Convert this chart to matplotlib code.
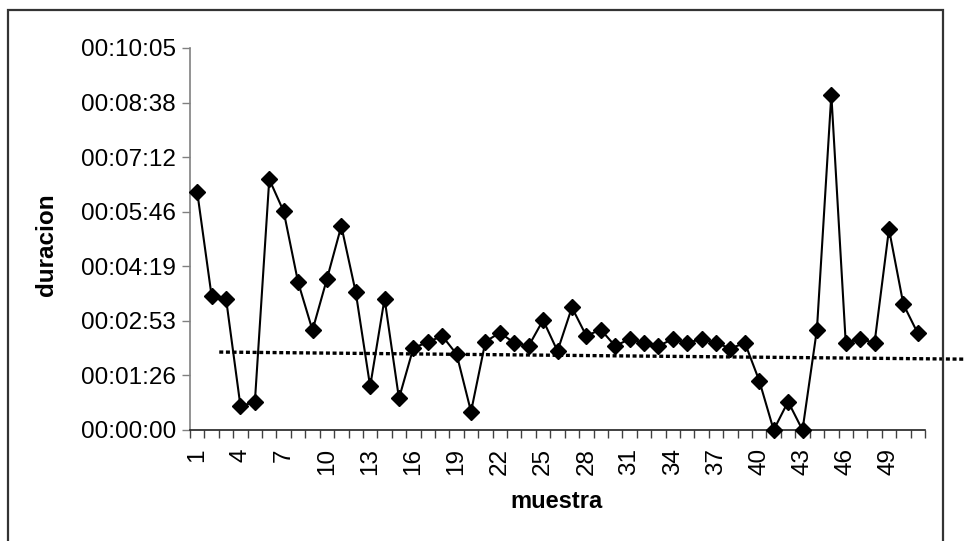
import matplotlib.pyplot as plt
import numpy as np
from matplotlib.patches import Rectangle
from matplotlib.ticker import FixedLocator, FuncFormatter

plt.rcParams['font.family'] = ['Liberation Sans', 'DejaVu Sans']

# duracion de cada muestra (hh:mm:ss)
muestra = list(range(1, 52))
duracion = [
    "00:06:17", "00:03:32", "00:03:28", "00:00:38", "00:00:44",
    "00:06:37", "00:05:46", "00:03:54", "00:02:38", "00:03:59",
    "00:05:23", "00:03:38", "00:01:09", "00:03:28", "00:00:50",
    "00:02:10", "00:02:19", "00:02:29", "00:02:00", "00:00:29",
    "00:02:20", "00:02:34", "00:02:18", "00:02:13", "00:02:54",
    "00:02:05", "00:03:14", "00:02:29", "00:02:39", "00:02:13",
    "00:02:24", "00:02:18", "00:02:13", "00:02:24", "00:02:18",
    "00:02:24", "00:02:18", "00:02:09", "00:02:18", "00:01:18",
    "00:00:00", "00:00:45", "00:00:00", "00:02:39", "00:08:51",
    "00:02:18", "00:02:24", "00:02:18", "00:05:18", "00:03:19",
    "00:02:33",
]
# linea de tendencia (muestra, segundos)
tend_x = [2.53, 55.0]
tend_y = [123.4, 112.0]

def a_segundos(t):
    h, m, s = (int(v) for v in t.split(":"))
    return h * 3600 + m * 60 + s

def hms(v, pos=None):
    v = int(round(v))
    return "%02d:%02d:%02d" % (v // 3600, (v % 3600) // 60, v % 60)

seg = [a_segundos(t) for t in duracion]

fig = plt.figure(figsize=(9.65, 5.41), dpi=100)
fig.patches.append(Rectangle((8 / 965, -0.05), (943 - 8) / 965, 1.05 - 10 / 541,
                             transform=fig.transFigure, fill=False,
                             edgecolor='#333333', linewidth=1.6))

ax = fig.add_axes([190 / 965, (541 - 430) / 541, 735 / 965, 382 / 541])

ax.plot(tend_x, tend_y, color='black', linewidth=2.4, clip_on=False,
        linestyle=(0, (1.2, 0.8)), dash_capstyle='butt', zorder=2)
ax.plot(muestra, seg, color='black', linewidth=1.5, marker='D',
        markersize=8, zorder=3, clip_on=False)

dia = 86.4  # 0.001 de dia
ax.set_ylim(0, 7 * dia)
ax.set_xlim(0.5, 51.5)
ax.yaxis.set_major_locator(FixedLocator([i * dia for i in range(8)]))
ax.yaxis.set_major_formatter(FuncFormatter(hms))

ax.set_xticks(muestra[::3])
ax.set_xticklabels([str(m) for m in muestra[::3]], rotation=90)
ax.set_xticks(np.arange(0.5, 52, 1), minor=True)
ax.tick_params(axis='x', which='major', length=0, pad=13, labelsize=17.5)
ax.tick_params(axis='x', which='minor', length=6, width=1, color='#404040')
ax.tick_params(axis='y', length=6, width=1, color='#808080', labelsize=17.5, pad=4)

for s in ['top', 'right']:
    ax.spines[s].set_visible(False)
ax.spines['left'].set_color('#808080')
ax.spines['bottom'].set_color('#202020')
ax.spines['left'].set_linewidth(1.2)
ax.spines['bottom'].set_linewidth(1.2)

fig.text(47 / 965, 1 - 245 / 541, 'duracion', rotation=90, fontsize=17.5,
         fontweight='bold', ha='center', va='center')
fig.text(557 / 965, 1 - 501 / 541, 'muestra', fontsize=17,
         fontweight='bold', ha='center', va='center')

fig.savefig('out.png', dpi=100)
